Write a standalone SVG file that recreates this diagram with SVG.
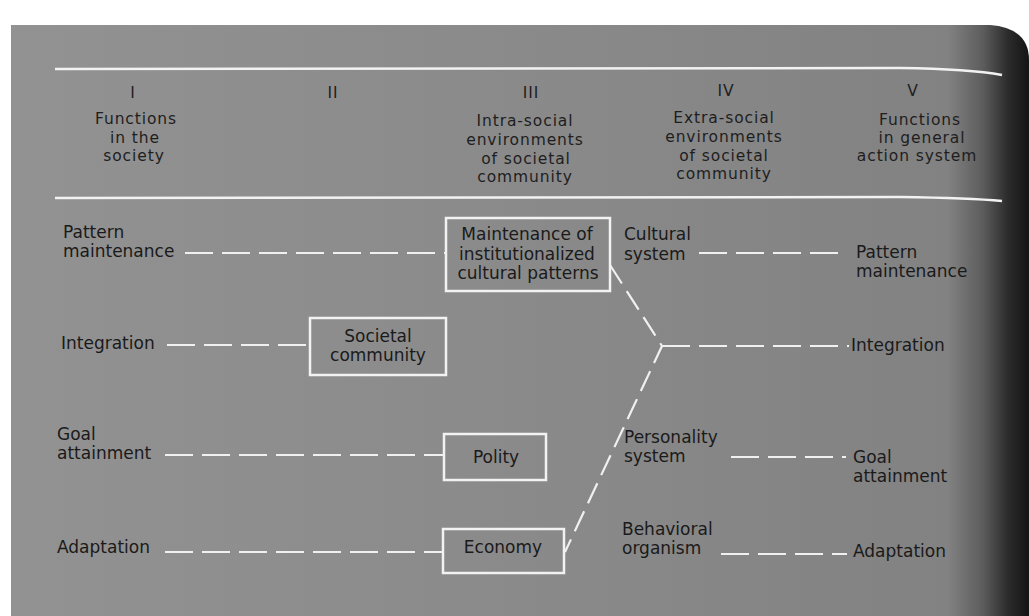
<svg xmlns="http://www.w3.org/2000/svg" width="1029" height="616" viewBox="0 0 1029 616">
<defs>
<linearGradient id="bg" x1="0" y1="0" x2="1" y2="0">
<stop offset="0" stop-color="#929292"/>
<stop offset="0.5" stop-color="#8a8a8a"/>
<stop offset="0.92" stop-color="#828282"/>
<stop offset="0.955" stop-color="#5c5c5c"/>
<stop offset="0.98" stop-color="#2a2a2a"/>
<stop offset="1" stop-color="#141414"/>
</linearGradient>
<style>
.hd{font-family:"DejaVu Sans",sans-serif;font-size:15.5px;letter-spacing:0.9px;fill:#1e1e1e;text-anchor:middle}
.lb{font-family:"DejaVu Sans",sans-serif;font-size:17px;fill:#1a1a1a}
.bx{font-family:"DejaVu Sans",sans-serif;font-size:17px;fill:#1a1a1a;text-anchor:middle}
.box{fill:none;stroke:#f2f2f2;stroke-width:2.5}
.rule{fill:none;stroke:#f2f2f2;stroke-width:2.5}
.dash{fill:none;stroke:#f0f0f0;stroke-width:2;stroke-dasharray:28 9}
.ddash{fill:none;stroke:#f0f0f0;stroke-width:2.2;stroke-dasharray:22 9}
</style>
</defs>
<rect x="0" y="0" width="1029" height="616" fill="#ffffff"/>
<path d="M11 25 L990 25 Q1029 28 1029 60 L1029 616 L11 616 Z" fill="url(#bg)"/>

<g id="header">
<path class="rule" d="M55 69 L900 68 Q970 69 1002 75"/>
<path class="rule" d="M55 198 L900 197 Q970 198 1002 201"/>
<text class="hd" x="133" y="98">I</text>
<text class="hd" x="136" y="124">Functions</text>
<text class="hd" x="135" y="143">in the</text>
<text class="hd" x="134" y="161">society</text>
<text class="hd" x="333" y="98">II</text>
<text class="hd" x="531" y="98">III</text>
<text class="hd" x="525" y="126">Intra-social</text>
<text class="hd" x="525" y="145">environments</text>
<text class="hd" x="526" y="164">of societal</text>
<text class="hd" x="525" y="182">community</text>
<text class="hd" x="726" y="96">IV</text>
<text class="hd" x="724" y="123">Extra-social</text>
<text class="hd" x="724" y="142">environments</text>
<text class="hd" x="724" y="161">of societal</text>
<text class="hd" x="724" y="179">community</text>
<text class="hd" x="913" y="96">V</text>
<text class="hd" x="920" y="125">Functions</text>
<text class="hd" x="922" y="143">in general</text>
<text class="hd" x="917" y="161">action system</text>
</g>

<g id="connectors">
<line class="dash" x1="185" y1="253" x2="445" y2="253"/>
<line class="dash" x1="167" y1="345" x2="310" y2="345"/>
<line class="dash" x1="165" y1="455" x2="444" y2="455"/>
<line class="dash" x1="165" y1="552" x2="443" y2="552"/>
<line class="dash" x1="699" y1="253" x2="847" y2="253"/>
<line class="dash" x1="662" y1="346" x2="849" y2="346"/>
<line class="dash" x1="731" y1="457" x2="846" y2="457"/>
<line class="dash" x1="721" y1="554" x2="847" y2="554"/>
<polyline class="ddash" points="610,265 662,346 565,552"/>
</g>

<g id="l-pattern"><text class="lb" x="63" y="238">Pattern</text><text class="lb" x="63" y="257">maintenance</text></g>
<g id="l-integration"><text class="lb" x="61" y="349">Integration</text></g>
<g id="l-goal"><text class="lb" x="57" y="440">Goal</text><text class="lb" x="57" y="459">attainment</text></g>
<g id="l-adaptation"><text class="lb" x="57" y="553">Adaptation</text></g>

<g id="n-maintenance"><rect class="box" x="446" y="218" width="164" height="73"/>
<text class="bx" x="527" y="240">Maintenance of</text>
<text class="bx" x="527" y="260">institutionalized</text>
<text class="bx" x="528" y="279">cultural patterns</text></g>
<g id="n-societal"><rect class="box" x="310" y="318" width="136" height="57"/>
<text class="bx" x="378" y="342">Societal</text>
<text class="bx" x="378" y="361">community</text></g>
<g id="n-polity"><rect class="box" x="444" y="434" width="102" height="46"/>
<text class="bx" x="496" y="463">Polity</text></g>
<g id="n-economy"><rect class="box" x="443" y="529" width="121" height="44"/>
<text class="bx" x="503" y="553">Economy</text></g>

<g id="e-cultural"><text class="lb" x="624" y="240">Cultural</text><text class="lb" x="624" y="260">system</text></g>
<g id="e-personality"><text class="lb" x="624" y="443">Personality</text><text class="lb" x="624" y="462">system</text></g>
<g id="e-behavioral"><text class="lb" x="622" y="535">Behavioral</text><text class="lb" x="622" y="554">organism</text></g>

<g id="r-pattern"><text class="lb" x="856" y="258">Pattern</text><text class="lb" x="856" y="277">maintenance</text></g>
<g id="r-integration"><text class="lb" x="851" y="351">Integration</text></g>
<g id="r-goal"><text class="lb" x="853" y="463">Goal</text><text class="lb" x="853" y="482">attainment</text></g>
<g id="r-adaptation"><text class="lb" x="853" y="557">Adaptation</text></g>
</svg>
